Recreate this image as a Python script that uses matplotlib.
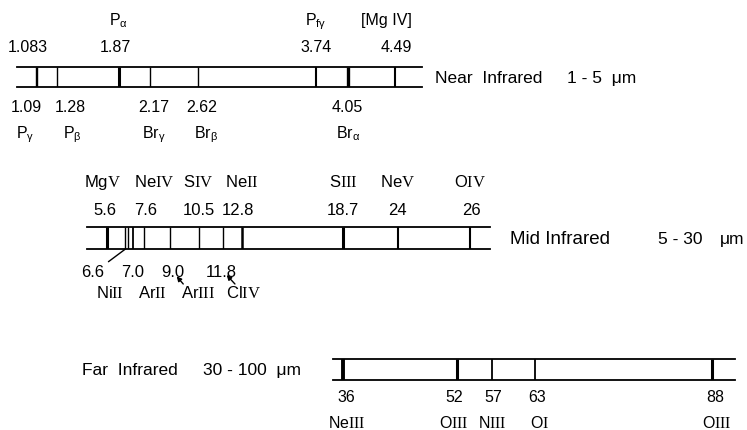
import numpy as np
import matplotlib
matplotlib.use('Agg')
import matplotlib.pyplot as plt
from matplotlib.transforms import blended_transform_factory, offset_copy

plt.rcParams['font.family'] = ['Liberation Sans', 'DejaVu Sans']
plt.rcParams['mathtext.fontset'] = 'custom'
plt.rcParams['mathtext.rm'] = 'Liberation Serif'
plt.rcParams['mathtext.sf'] = 'Liberation Sans'
plt.rcParams['mathtext.it'] = 'Liberation Sans:italic'

W, H = 747, 431

# ---- line data (wavelength in micron, ion, label above/below the strip)
near_wl = [1.083, 1.09, 1.28, 1.87, 2.17, 2.62, 3.74, 4.05, 4.49]
near_name = ['', r'P$_\mathsf{\gamma}$', r'P$_\mathsf{\beta}$', r'P$_\mathsf{\alpha}$',
             r'Br$_\mathsf{\gamma}$', r'Br$_\mathsf{\beta}$', r'P$_\mathsf{f\gamma}$',
             r'Br$_\mathsf{\alpha}$', '[Mg IV]']
near_side = ['up', 'down', 'down', 'up', 'down', 'down', 'up', 'down', 'up']

mid_wl = [5.6, 6.6, 7.0, 7.6, 9.0, 10.5, 11.8, 12.8, 18.7, 24, 26]
mid_name = [r'Mg$\mathrm{V}$', r'Ni$\mathrm{II}$', r'Ar$\mathrm{II}$', r'Ne$\mathrm{IV}$',
            r'Ar$\mathrm{III}$', r'S$\mathrm{IV}$', r'Cl$\mathrm{IV}$', r'Ne$\mathrm{II}$',
            r'S$\mathrm{III}$', r'Ne$\mathrm{V}$', r'O$\mathrm{IV}$']
mid_side = ['up', 'down', 'down', 'up', 'down', 'up', 'down', 'up', 'up', 'up', 'up']
mid_extra = [6.75]   # unlabeled line next to 6.6

far_wl = [36, 52, 57, 63, 88]
far_name = [r'Ne$\mathrm{III}$', r'O$\mathrm{III}$', r'N$\mathrm{III}$', r'O$\mathrm{I}$', r'O$\mathrm{III}$']
far_side = ['down'] * 5

# ---- layout / style (pixels)
near_lw = [1.0, 1.0, 1.0, 2.2, 1.0, 1.0, 1.5, 2.4, 1.5]
near_vdx = [-8, -10, 14, -3, 3, 4, 0, -1, 2]
near_ndx = [0, -12, 16, 0, 3, 8, 0, 0, -8]

mid_lw = [2.2, 1.0, 1.3, 1.0, 1.0, 1.0, 1.0, 1.8, 2.2, 1.5, 1.5]
mid_vdx = [-2, -33, 0, 1, 2, 0, -2, -4, 0, 0, 1]
mid_ndx = [-4, -16, 19, 10, 28, 0, 21, 0, 0, 0, 0]
# mid strip is not to scale: wavelength -> pixel knots
mid_knot_wl = [4.55, 5.6, 12.8, 18.7, 24, 26, 26.56]
mid_knot_px = [87, 106.7, 241.7, 343, 397.7, 470, 490]

far_lw = [2.8, 2.2, 1.3, 1.3, 2.2]
far_vdx = [3, -2, 1, 3, 3]
far_ndx = [4, -3, 0, 5, 5]

fig = plt.figure(figsize=(W / 100, H / 100), dpi=100)


def band_axes(x0, x1, y0, y1):
    ax = fig.add_axes([x0 / W, 1 - y1 / H, (x1 - x0) / W, (y1 - y0) / H])
    ax.set_facecolor('none')
    ax.set_xticks([])
    ax.set_yticks([])
    ax.set_ylim(0, 1)
    ax.spines['left'].set_visible(False)
    ax.spines['right'].set_visible(False)
    ax.spines['top'].set_linewidth(1.3)
    ax.spines['bottom'].set_linewidth(1.3)
    return ax


def draw_lines(ax, wl, names, sides, lws, vdx, ndx, up, down, fs=11.5):
    ax.vlines(wl, 0, 1, colors='k', linewidths=lws)
    for w, n, s, dv, dn in zip(wl, names, sides, vdx, ndx):
        if s == 'up':
            yy, sign, gaps = 1, 1, up
        else:
            yy, sign, gaps = 0, -1, down
        ax.annotate(str(w), xy=(w, yy), xycoords=('data', 'axes fraction'),
                    xytext=(dv, sign * gaps[0]), textcoords='offset pixels',
                    ha='center', va='baseline', fontsize=fs, annotation_clip=False)
        if n:
            ax.annotate(n, xy=(w, yy), xycoords=('data', 'axes fraction'),
                        xytext=(dn, sign * gaps[1]), textcoords='offset pixels',
                        ha='center', va='baseline', fontsize=fs, annotation_clip=False)


# Near infrared
ax1 = band_axes(17, 421.7, 68.3, 88.3)
ax1.set_xlim(0.903, 4.746)
draw_lines(ax1, near_wl, near_name, near_side, near_lw, near_vdx, near_ndx,
           up=(16.3, 43.3), down=(23.4, 50))

# Mid infrared
ax2 = band_axes(87, 490, 228, 250)
fwd = lambda x: np.interp(x, mid_knot_wl, mid_knot_px)
inv = lambda p: np.interp(p, mid_knot_px, mid_knot_wl)
ax2.set_xscale('function', functions=(fwd, inv))
ax2.set_xlim(mid_knot_wl[0], mid_knot_wl[-1])
ax2.set_xticks([])
ax2.xaxis.set_minor_locator(matplotlib.ticker.NullLocator())
ax2.vlines(mid_extra, 0, 1, colors='k', linewidths=1.0)
draw_lines(ax2, mid_wl, mid_name, mid_side, mid_lw, mid_vdx, mid_ndx,
           up=(13, 40.7), down=(26.7, 48.3), fs=12)

blend = blended_transform_factory(ax2.transData, ax2.transAxes)
ax2.annotate('', xy=(6.6, 0), xycoords=('data', 'axes fraction'),
             xytext=(-17, -12.7), textcoords='offset pixels',
             arrowprops=dict(arrowstyle='-', lw=1, color='k', shrinkA=0, shrinkB=0),
             annotation_clip=False)
ax2.annotate('', xy=(9.0, 0), xycoords=offset_copy(blend, fig=fig, x=6.2, y=-27.3, units='dots'),
             xytext=(6.6, -7.7), textcoords='offset pixels',
             arrowprops=dict(arrowstyle='-|>', lw=1, color='k', mutation_scale=7,
                             shrinkA=0, shrinkB=0),
             annotation_clip=False)
ax2.annotate('', xy=(11.8, 0), xycoords=offset_copy(blend, fig=fig, x=3.7, y=-26, units='dots'),
             xytext=(8.3, -9), textcoords='offset pixels',
             arrowprops=dict(arrowstyle='-|>', lw=1, color='k', mutation_scale=7,
                             shrinkA=0, shrinkB=0),
             annotation_clip=False)

# Far infrared
ax3 = band_axes(333, 735, 360, 381)
ax3.set_xlim(34.59, 91.24)
draw_lines(ax3, far_wl, far_name, far_side, far_lw, far_vdx, far_ndx,
           up=(0, 0), down=(21.3, 46.7))

# band titles
bt = 12.5
fig.text(435 / W, 1 - 83 / H, 'Near  Infrared', va='baseline', fontsize=bt)
fig.text(567 / W, 1 - 83 / H, '1 - 5  \u03bcm', va='baseline', fontsize=bt)
fig.text(510 / W, 1 - 244 / H, 'Mid Infrared', va='baseline', fontsize=13.5)
fig.text(658 / W, 1 - 244 / H, '5 - 30', va='baseline', fontsize=bt)
fig.text(720 / W, 1 - 244 / H, '\u03bcm', va='baseline', fontsize=bt)
fig.text(82 / W, 1 - 375.5 / H, 'Far  Infrared', va='baseline', fontsize=bt)
fig.text(203 / W, 1 - 375.5 / H, '30 - 100  \u03bcm', va='baseline', fontsize=bt)

fig.savefig('out.png', dpi=100)
